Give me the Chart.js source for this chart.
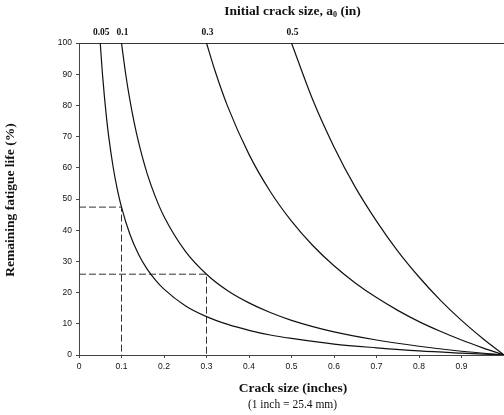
<!DOCTYPE html>
<html>
<head>
<meta charset="utf-8">
<script src="https://cdn.jsdelivr.net/npm/chart.js@4.4.1/dist/chart.umd.min.js"></script>
<style>
  html, body { margin: 0; padding: 0; background: #ffffff; }
  #wrap { position: relative; width: 504px; height: 415px; }
</style>
</head>
<body>
<div id="wrap"><canvas id="c" width="504" height="415"></canvas></div>
<script>
// ---- Data ----
const curveLabels = ['0.05', '0.1', '0.3', '0.5'];   // initial crack size a0 (in)
const curveStarts = [0.05, 0.1, 0.3, 0.5];

const crack005 = [0.05, 0.055, 0.06, 0.065, 0.07, 0.08, 0.09, 0.1, 0.12, 0.14, 0.16, 0.18, 0.2, 0.25, 0.3, 0.35, 0.4, 0.45, 0.5, 0.6, 0.7, 0.8, 0.9, 1.0];
const life005  = [100, 90.4, 82.5, 75.7, 69.9, 60.5, 53.2, 47.4, 38.6, 32.3, 27.6, 24.0, 21.1, 15.8, 12.3, 9.8, 7.9, 6.4, 5.3, 3.5, 2.3, 1.3, 0.6, 0];

const crack01 = [0.1, 0.11, 0.12, 0.13, 0.14, 0.16, 0.18, 0.2, 0.25, 0.3, 0.35, 0.4, 0.45, 0.5, 0.6, 0.7, 0.8, 0.9, 1.0];
const life01  = [100, 89.9, 81.5, 74.4, 68.3, 58.3, 50.6, 44.4, 33.3, 25.9, 20.6, 16.7, 13.6, 11.1, 7.4, 4.8, 2.8, 1.2, 0];

const crack03 = [0.3, 0.32, 0.35, 0.4, 0.45, 0.5, 0.55, 0.6, 0.65, 0.7, 0.75, 0.8, 0.85, 0.9, 0.95, 1.0];
const life03  = [100, 91.1, 79.6, 64.3, 52.4, 42.9, 35.1, 28.6, 23.1, 18.4, 14.3, 10.7, 7.6, 4.8, 2.3, 0];

const crack05 = [0.5, 0.55, 0.6, 0.65, 0.7, 0.75, 0.8, 0.85, 0.9, 0.95, 1.0];
const life05  = [100, 81.8, 66.7, 53.8, 42.9, 33.3, 25.0, 17.6, 11.1, 5.3, 0];

// dashed read-off guides
const guideAX = [0, 0.1, 0.1];
const guideAY = [47.4, 47.4, 0];
const guideBX = [0, 0.3, 0.3];
const guideBY = [25.9, 25.9, 0];

const xTicks = [0, 0.1, 0.2, 0.3, 0.4, 0.5, 0.6, 0.7, 0.8, 0.9];
const yTicks = [0, 10, 20, 30, 40, 50, 60, 70, 80, 90, 100];

// ---- Chart ----
const pts = (xs, ys) => xs.map((x, i) => ({ x: x, y: ys[i] }));
const curveStyle = { borderColor: '#111', borderWidth: 1.2, pointRadius: 0, fill: false, cubicInterpolationMode: 'monotone' };
const guideStyle = { borderColor: '#333', borderWidth: 1, pointRadius: 0, fill: false, tension: 0, borderDash: [7, 3] };

const textPlugin = {
  id: 'texts',
  afterDraw(chart) {
    const ctx = chart.ctx;
    const xs = chart.scales.x;
    ctx.save();
    ctx.fillStyle = '#111';
    ctx.textBaseline = 'middle';

    // top title with subscript
    const bold = 'bold 13.5px "Liberation Serif", "Times New Roman", serif';
    const subF = 'bold 8px "Liberation Serif", "Times New Roman", serif';
    const p1 = 'Initial crack size, a', p2 = '0', p3 = ' (in)';
    ctx.font = bold; const w1 = ctx.measureText(p1).width, w3 = ctx.measureText(p3).width;
    ctx.font = subF; const w2 = ctx.measureText(p2).width;
    let sx = 292.5 - (w1 + w2 + w3) / 2;
    ctx.textAlign = 'left';
    ctx.font = bold; ctx.fillText(p1, sx, 12); sx += w1;
    ctx.font = subF; ctx.fillText(p2, sx, 15); sx += w2;
    ctx.font = bold; ctx.fillText(p3, sx, 12);

    // curve labels along the top
    ctx.textAlign = 'center';
    ctx.font = 'bold 9.5px "Liberation Serif", "Times New Roman", serif';
    curveLabels.forEach((lab, i) => {
      ctx.fillText(lab, xs.getPixelForValue(curveStarts[i]) + 1, 32.5);
    });

    // x axis title and note
    ctx.font = bold;
    ctx.fillText('Crack size (inches)', 293, 389);
    ctx.font = '11.5px "Liberation Serif", "Times New Roman", serif';
    ctx.fillText('(1 inch = 25.4 mm)', 292.5, 405);

    // y axis title
    ctx.translate(11, 200);
    ctx.rotate(-Math.PI / 2);
    ctx.font = bold;
    ctx.fillText('Remaining fatigue life (%)', 0, 0);
    ctx.restore();
  }
};

new Chart(document.getElementById('c'), {
  type: 'line',
  data: {
    datasets: [
      Object.assign({ label: 'a0 = ' + curveLabels[0], data: pts(crack005, life005) }, curveStyle),
      Object.assign({ label: 'a0 = ' + curveLabels[1], data: pts(crack01, life01) }, curveStyle),
      Object.assign({ label: 'a0 = ' + curveLabels[2], data: pts(crack03, life03) }, curveStyle),
      Object.assign({ label: 'a0 = ' + curveLabels[3], data: pts(crack05, life05) }, curveStyle),
      Object.assign({ label: 'guide 0.1', data: pts(guideAX, guideAY) }, guideStyle),
      Object.assign({ label: 'guide 0.3', data: pts(guideBX, guideBY) }, guideStyle)
    ]
  },
  options: {
    responsive: false,
    animation: false,
    devicePixelRatio: 1,
    layout: { padding: { top: 43, left: 0, right: 0, bottom: 0 } },
    plugins: { legend: { display: false }, tooltip: { enabled: false }, title: { display: false } },
    scales: {
      x: {
        type: 'linear', min: 0, max: 1,
        afterFit(s) { s.height = 60; },
        afterBuildTicks(s) { s.ticks = xTicks.map(v => ({ value: v })); },
        ticks: {
          padding: 4,
          color: '#111',
          font: { family: '"Liberation Sans", Arial, sans-serif', size: 8.5 },
          maxRotation: 0,
          autoSkip: false,
          callback: (v) => String(Number(v.toFixed(2)))
        },
        grid: { drawOnChartArea: false, drawTicks: true, tickLength: 3, tickColor: '#444' },
        border: { display: true, color: '#444', width: 1 }
      },
      y: {
        min: 0, max: 100,
        afterFit(s) { s.width = 79; },
        afterBuildTicks(s) { s.ticks = yTicks.map(v => ({ value: v })); },
        ticks: {
          padding: 4,
          color: '#111',
          font: { family: '"Liberation Sans", Arial, sans-serif', size: 8.5 },
          autoSkip: false
        },
        grid: {
          drawOnChartArea: true,
          color: (c) => (c.tick && c.tick.value === 100) ? '#333' : 'rgba(0,0,0,0)',
          lineWidth: 1,
          tickLength: 3,
          tickColor: '#444'
        },
        border: { display: true, color: '#444', width: 1 }
      }
    }
  },
  plugins: [textPlugin]
});
</script>
</body>
</html>
